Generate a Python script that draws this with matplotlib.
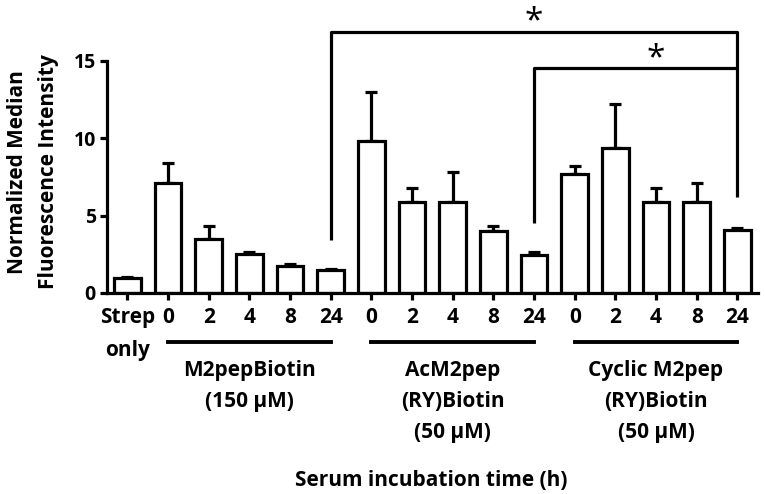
import matplotlib
matplotlib.use("Agg")
import matplotlib.pyplot as plt
from matplotlib.transforms import blended_transform_factory
from matplotlib.lines import Line2D

plt.rcParams['font.family'] = ['Open Sans', 'DejaVu Sans']
plt.rcParams['font.weight'] = 'bold'

# ---- data ----
tick_labels = ["Strep", "0", "2", "4", "8", "24", "0", "2", "4", "8", "24",
               "0", "2", "4", "8", "24"]
means = [1.0, 7.1, 3.5, 2.55, 1.72, 1.5, 9.8, 5.9, 5.9, 3.98, 2.47,
         7.72, 9.38, 5.9, 5.9, 4.07]
errors = [0.05, 1.32, 0.86, 0.13, 0.14, 0.07, 3.2, 0.87, 1.9, 0.32, 0.2,
          0.5, 2.85, 0.87, 1.23, 0.11]
group_names = ["M2pepBiotin\n(150 µM)", "AcM2pep\n(RY)Biotin\n(50 µM)",
               "Cyclic M2pep\n(RY)Biotin\n(50 µM)"]
group_spans = [(1, 5), (6, 10), (11, 15)]
yticks = [0, 5, 10, 15]

FS = 15
W, H = 765, 494
fig = plt.figure(figsize=(W / 100, H / 100), dpi=100)
ax = fig.add_axes([107 / W, 1 - 293 / H, 650.7 / W, 286.2 / H])

x = list(range(len(means)))
lw = 2.3
ax.bar(x, means, width=0.65, color='white', edgecolor='black', linewidth=lw, zorder=2)
ax.errorbar(x, means, yerr=[[0] * len(errors), errors], fmt='none', ecolor='black',
            elinewidth=lw, capsize=4.5, capthick=lw, zorder=1)

ax.set_xlim(-0.5, 15.5)
ax.set_ylim(0, 18.5)
ax.set_yticks(yticks)
ax.set_xticks(x)
ax.set_xticklabels(tick_labels)
for s in ['top', 'right']:
    ax.spines[s].set_visible(False)
for s in ['left', 'bottom']:
    ax.spines[s].set_linewidth(lw)
ax.spines['left'].set_bounds(0, 15)
ax.tick_params(axis='both', width=lw, length=5, labelsize=FS)
ax.tick_params(axis='y', pad=3, labelsize=14)
ax.tick_params(axis='x', pad=5)

# significance brackets
bk = dict(color='black', linewidth=lw, clip_on=False, solid_capstyle='butt')
ax.plot([5, 5, 15, 15], [3.4, 16.9, 16.9, 6.2], **bk)
ax.plot([10, 10, 15], [4.5, 14.55, 14.55], **bk)
ax.text(10, 17.55, "*", ha='center', va='center', fontsize=24, fontweight='normal')
ax.text(13, 15.15, "*", ha='center', va='center', fontsize=24, fontweight='normal')

# annotations below axis
tr = blended_transform_factory(ax.transData, fig.transFigure)
ax.text(0, 1 - 350 / H, "only", transform=tr, ha='center', va='center', fontsize=FS)
centers = [3, 8, 13]
for (a, b), name, c in zip(group_spans, group_names, centers):
    fig.add_artist(Line2D([a, b], [1 - 342 / H, 1 - 342 / H], transform=tr,
                          color='black', linewidth=lw + 0.5))
    ax.text(c, 1 - 360 / H, name, transform=tr, ha='center', va='top',
            fontsize=FS, linespacing=1.62)

fig.text(431 / W, 1 - 480 / H, "Serum incubation time (h)", ha='center', va='center',
         fontsize=FS)
fig.text(33 / W, 1 - 172 / H, "Normalized Median\nFluorescence Intensity",
         rotation=90, ha='center', va='center', fontsize=FS, linespacing=1.6)

fig.savefig("out.png", dpi=100)
